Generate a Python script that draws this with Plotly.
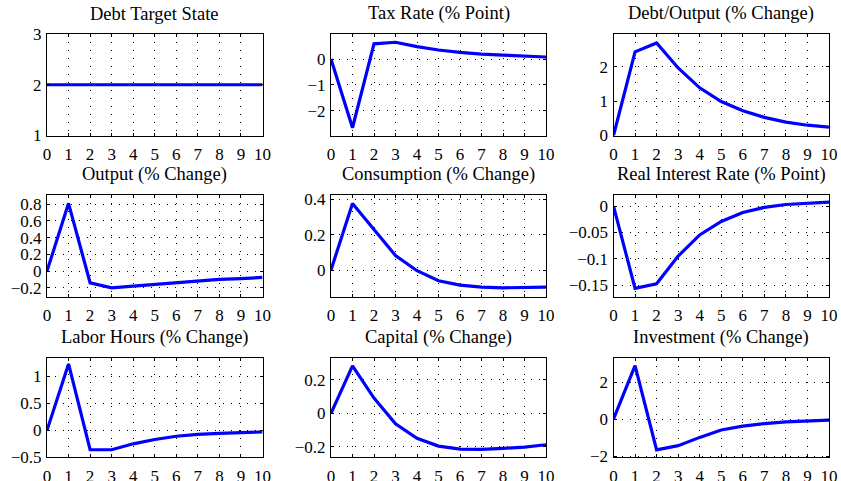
import plotly.graph_objects as go

periods = list(range(11))

titles = ["Debt Target State", "Tax Rate (% Point)", "Debt/Output (% Change)",
          "Output (% Change)", "Consumption (% Change)", "Real Interest Rate (% Point)",
          "Labor Hours (% Change)", "Capital (% Change)", "Investment (% Change)"]

debt_target = [2, 2, 2, 2, 2, 2, 2, 2, 2, 2, 2]
tax_rate = [0, -2.66, 0.59, 0.65, 0.48, 0.35, 0.26, 0.19, 0.155, 0.12, 0.08]
debt_output = [0, 2.44, 2.70, 1.97, 1.39, 0.99, 0.72, 0.53, 0.39, 0.30, 0.245]
output = [0, 0.81, -0.14, -0.20, -0.18, -0.16, -0.14, -0.12, -0.10, -0.09, -0.076]
consumption = [0, 0.377, 0.229, 0.082, -0.004, -0.061, -0.086, -0.097, -0.101, -0.101, -0.097]
real_rate = [0, -0.1556, -0.147, -0.0946, -0.0546, -0.029, -0.012, -0.0025, 0.003, 0.006, 0.0077]
labor = [0, 1.23, -0.36, -0.36, -0.25, -0.17, -0.11, -0.075, -0.056, -0.044, -0.03]
capital = [0, 0.284, 0.091, -0.063, -0.149, -0.196, -0.214, -0.216, -0.21, -0.202, -0.188]
investment = [0, 2.9, -1.67, -1.44, -0.99, -0.59, -0.38, -0.24, -0.145, -0.09, -0.05]

series = [debt_target, tax_rate, debt_output, output, consumption, real_rate,
          labor, capital, investment]

y_ranges = [[1, 3], [-2.96, 0.97], [0, 2.96], [-0.31, 0.91], [-0.153, 0.425],
            [-0.172, 0.021], [-0.5, 1.35], [-0.263, 0.334], [-2.07, 3.34]]

y_tickvals = [[1, 2, 3], [-2, -1, 0], [0, 1, 2], [-0.2, 0, 0.2, 0.4, 0.6, 0.8],
              [0, 0.2, 0.4], [-0.15, -0.1, -0.05, 0], [-0.5, 0, 0.5, 1],
              [-0.2, 0, 0.2], [-2, 0, 2]]
y_ticktext = [["1", "2", "3"], ["−2", "−1", "0"], ["0", "1", "2"],
              ["−0.2", "0", "0.2", "0.4", "0.6", "0.8"], ["0", "0.2", "0.4"],
              ["−0.15", "−0.1", "−0.05", "0"], ["−0.5", "0", "0.5", "1"],
              ["−0.2", "0", "0.2"], ["−2", "0", "2"]]
x_ticktext = [str(p) for p in periods]

W, H = 841, 481
col_px = [(47, 262.5), (331, 546), (613.5, 829)]
row_px = [(34, 135.5), (195, 297), (357.5, 457.3)]

fam = "Liberation Serif, Times New Roman, serif"
tick_font = dict(family=fam, size=17, color="black")
title_font = dict(family=fam, size=18.5, color="black")

fig = go.Figure()
annotations = []
for i in range(9):
    r, c = divmod(i, 3)
    n = i + 1
    xa = "x" if n == 1 else f"x{n}"
    ya = "y" if n == 1 else f"y{n}"
    fig.add_trace(go.Scatter(x=periods, y=series[i], mode="lines",
                             line=dict(color="#0000ff", width=3.2),
                             xaxis=xa, yaxis=ya, showlegend=False, hoverinfo="skip"))
    xd = [col_px[c][0] / W, col_px[c][1] / W]
    yd = [1 - row_px[r][1] / H, 1 - row_px[r][0] / H]
    common = dict(showline=True, mirror="allticks", linecolor="black", linewidth=1,
                  ticks="inside", ticklen=3, tickcolor="black", automargin=False,
                  showgrid=True, gridcolor="black", gridwidth=1, griddash="1px,7px",
                  zeroline=False, tickfont=tick_font)
    fig.layout[f"xaxis{n if n > 1 else ''}"] = dict(
        domain=xd, anchor=ya, range=[0, 10], tickvals=periods, ticktext=x_ticktext,
        ticklabelstandoff=3, **common)
    fig.layout[f"yaxis{n if n > 1 else ''}"] = dict(
        domain=yd, anchor=xa, range=y_ranges[i], tickvals=y_tickvals[i],
        ticktext=y_ticktext[i], ticklabelstandoff=1, **common)
    annotations.append(dict(text=titles[i], x=(xd[0] + xd[1]) / 2, y=yd[1],
                            xref="paper", yref="paper", xanchor="center",
                            yanchor="bottom", yshift=8, showarrow=False, font=title_font))

fig.update_layout(template="none", width=W, height=H,
                  margin=dict(l=0, r=0, t=0, b=0, autoexpand=False),
                  plot_bgcolor="white", paper_bgcolor="white",
                  annotations=annotations, font=tick_font)
fig.write_html("out.html", config={"displayModeBar": False},
               post_script="document.body.style.margin='0px';")
